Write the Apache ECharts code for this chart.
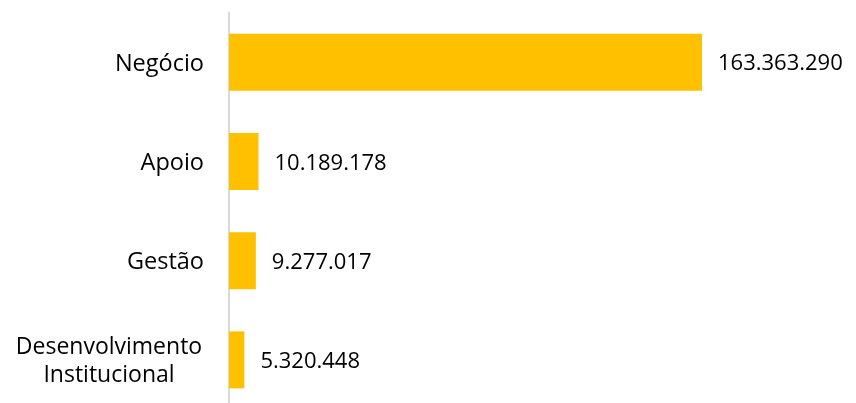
<!DOCTYPE html>
<html>
<head>
<meta charset="utf-8">
<script src="https://cdn.jsdelivr.net/npm/echarts@6/dist/echarts.min.js"></script>
<style>
    html, body { margin: 0; padding: 0; background: #fff; }
    #chart { width: 856px; height: 403px; }
</style>
</head>
<body>
<div id="chart"></div>
<script>
var categories = ['Negócio', 'Apoio', 'Gestão', 'Desenvolvimento Institucional'];
var values = [163363290, 10189178, 9277017, 5320448];

// 163.363.290
function fmtNum(v) {
    return String(v).replace(/\B(?=(\d{3})+(?!\d))/g, '.');
}

var chart = echarts.init(document.getElementById('chart'));
var textFont = '"Open Sans", sans-serif';

var option = {
    animation: false,
    grid: {
        left: 229,
        top: 12.5,
        width: 473,
        height: 397,
        outerBoundsMode: 'none'
    },
    xAxis: {
        type: 'value',
        min: 0,
        max: values[0],
        show: false
    },
    yAxis: {
        type: 'category',
        inverse: true,
        data: categories,
        axisLine: {
            lineStyle: { color: '#d9d9d9', width: 2 }
        },
        axisTick: { show: false },
        axisLabel: {
            margin: 25,
            color: '#000',
            fontSize: 23.5,
            fontFamily: textFont,
            padding: [4, 0, 0, 0],
            formatter: function (name) {
                if (name.indexOf(' ') > 0) {
                    var parts = name.split(' ');
                    return '{c|' + parts[0] + '}\n{c|' + parts[1] + '}';
                }
                return name;
            },
            rich: {
                c: {
                    width: 190,
                    align: 'center',
                    lineHeight: 28,
                    fontSize: 23,
                    color: '#000',
                    fontFamily: textFont
                }
            }
        }
    },
    series: [
        {
            type: 'bar',
            data: values,
            barWidth: 57,
            itemStyle: { color: '#FFC000' },
            label: {
                show: true,
                position: 'right',
                distance: 16,
                offset: [0, 2],
                color: '#000',
                fontSize: 22,
                fontFamily: textFont,
                formatter: function (p) { return fmtNum(p.value); }
            }
        }
    ]
};

chart.setOption(option);
</script>
</body>
</html>
